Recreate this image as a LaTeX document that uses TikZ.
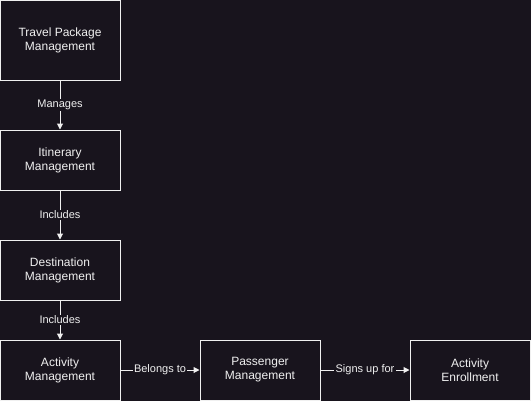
\documentclass[tikz,border=0pt]{standalone}
\usepackage{fontspec}
\setmainfont{Liberation Sans}
\usetikzlibrary{arrows.meta}
\definecolor{diagback}{RGB}{24,20,29}
\definecolor{diagline}{RGB}{240,240,240}

\tikzset{
  modbox/.style={draw=diagline,fill=diagback,line width=0.75pt,text=diagline,
    minimum width=90pt,align=center,font=\fontsize{9}{10.5}\selectfont},
  relarrow/.style={draw=diagline,line width=0.75pt,-{Triangle[length=4.5pt,width=4.5pt]}},
  rellabel/.style={fill=diagback,text=diagline,inner sep=1pt,font=\fontsize{8.25}{9.5}\selectfont}
}

\begin{document}
\begin{tikzpicture}[x=0.75pt,y=-0.75pt]
\fill [diagback] (0,0) rectangle (531,401);
\useasboundingbox (0,0) rectangle (531,401);

\node [modbox,minimum height=60pt] (travel) at (60,40) {Travel Package\\Management};
\node [modbox,minimum height=45pt] (itinerary) at (60,160) {Itinerary\\Management};
\node [modbox,minimum height=45pt] (destination) at (60,270) {Destination\\Management};
\node [modbox,minimum height=45pt] (activity) at (60,370) {Activity\\Management};
\node [modbox,minimum height=45pt] (passenger) at (260,370) {Passenger\\Management};
\node [modbox,minimum height=45pt] (enroll) at (470,370) {Activity\\Enrollment};

\draw [relarrow] (travel) -- node [rellabel] {Manages} (itinerary);
\draw [relarrow] (itinerary) -- node [rellabel] {Includes} (destination);
\draw [relarrow] (destination) -- node [rellabel] {Includes} (activity);
\draw [relarrow] (activity) -- node [rellabel] {Belongs to} (passenger);
\draw [relarrow] (passenger) -- node [rellabel] {Signs up for} (enroll);
\end{tikzpicture}
\end{document}
